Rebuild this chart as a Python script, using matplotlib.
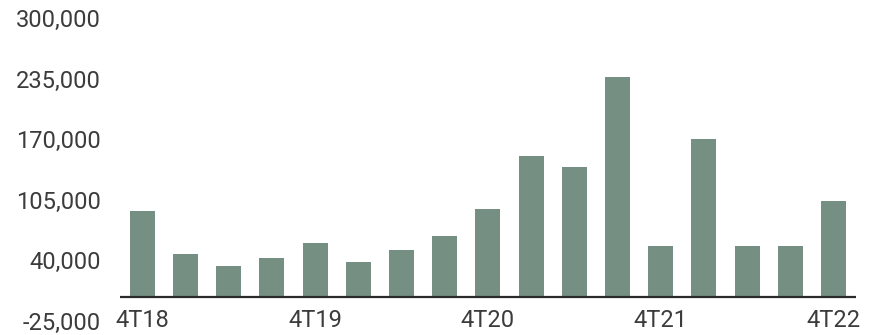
import matplotlib.pyplot as plt

# quarterly values
quarters = ["4T18", "1T19", "2T19", "3T19", "4T19", "1T20", "2T20", "3T20", "4T20",
            "1T21", "2T21", "3T21", "4T21", "1T22", "2T22", "3T22", "4T22"]
values = [93400, 47000, 34000, 42600, 58300, 37900, 51500, 66600, 94900,
          152500, 140000, 237400, 55100, 170400, 55800, 55100, 104200]
yticks = [-25000, 40000, 105000, 170000, 235000, 300000]
shown_labels = ["4T18", "4T19", "4T20", "4T21", "4T22"]

plt.rcParams['font.family'] = ['Roboto', 'DejaVu Sans']
text_color = "#3c3c3c"

fig = plt.figure(figsize=(8.69, 3.35), dpi=100)
ax = fig.add_axes([0.138, 0.0425, 0.847, 0.903])

x = list(range(len(quarters)))
ax.bar(x, values, width=0.58, color="#758f83")
ax.axhline(0, color="#2b2b2b", linewidth=1.6)

ax.set_xlim(-0.52, len(quarters) - 0.48)
ax.set_ylim(-25000, 300000)
ax.set_yticks(yticks)
ax.set_yticklabels([f"{v:,}" for v in yticks])

xt = [i for i, q in enumerate(quarters) if q in shown_labels]
ax.set_xticks(xt)
ax.set_xticklabels([quarters[i] for i in xt], va="center")

ax.tick_params(axis="y", length=0, pad=14, labelsize=17, labelcolor=text_color)
ax.tick_params(axis="x", length=0, pad=0, labelsize=17, labelcolor=text_color)
for s in ax.spines.values():
    s.set_visible(False)

fig.savefig("out.png", dpi=100)
